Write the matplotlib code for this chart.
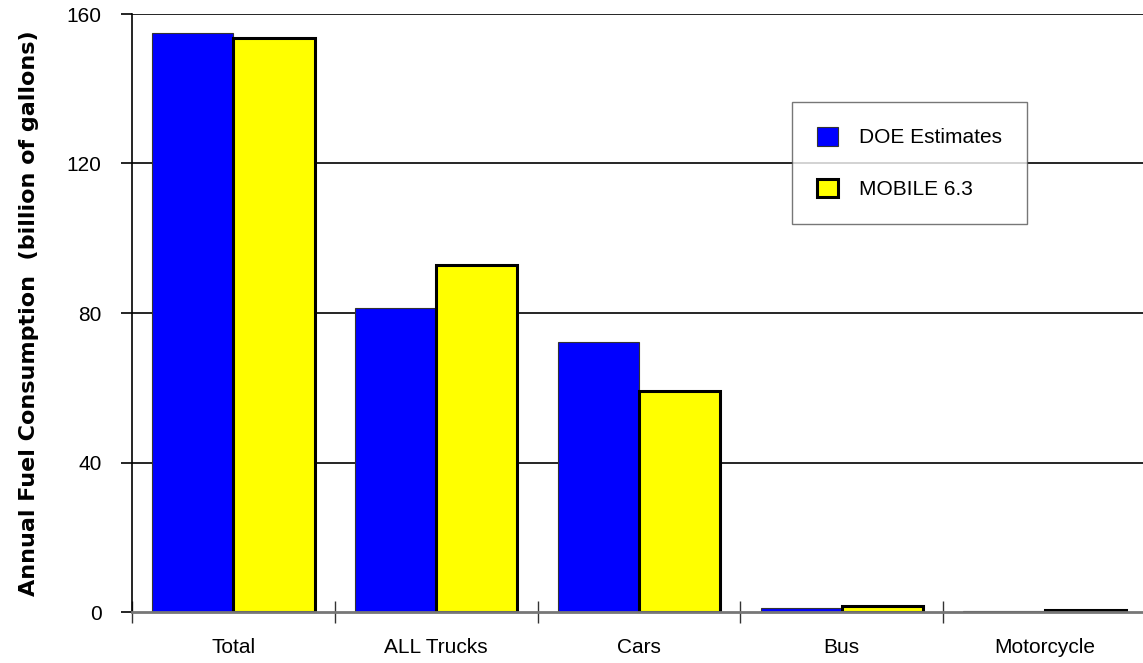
'''
Annual fuel consumption: DOE estimates vs MOBILE 6.3
'''

import numpy as np
import matplotlib.pyplot as plt
from matplotlib.patches import Patch

categories = ['Total', 'ALL Trucks', 'Cars', 'Bus', 'Motorcycle']
doe_estimates = [154.9, 81.3, 72.2, 1.1, 0.3]
mobile_63 = [153.6, 92.8, 59.1, 1.6, 0.6]
y_ticks = [0, 40, 80, 120, 160]


def plot_bar_graph():
    '''
    Draw the grouped bar chart and save it
    '''
    plt.rcParams['font.family'] = ['Liberation Sans', 'DejaVu Sans']
    fig = plt.figure(figsize=(11.43, 6.63), dpi=100)
    ax = fig.add_axes([132 / 1143, 1 - 612 / 663,
                       (1146 - 132) / 1143, (612 - 14) / 663])

    x = np.arange(len(categories))
    width = 0.4
    ax.bar(x - width / 2, doe_estimates, width, color='#0000ff',
           edgecolor='#333333', linewidth=0.8, zorder=3)
    ax.bar(x + width / 2, mobile_63, width, color='#ffff00',
           edgecolor='black', linewidth=2.2, zorder=3)

    ax.set_xlim(-0.5, len(categories) - 0.5)
    ax.set_ylim(0, 160)
    ax.set_yticks(y_ticks)
    ax.set_yticklabels([str(v) for v in y_ticks], fontsize=15)
    for v in y_ticks[1:]:
        ax.axhline(v, color='black', linewidth=1.2, zorder=1)

    ax.set_xticks(np.arange(len(categories) + 1) - 0.5, minor=False)
    ax.set_xticklabels([])
    ax.set_xticks(x, minor=True)
    ax.set_xticklabels(categories, minor=True, fontsize=15)
    ax.tick_params(axis='x', which='major', direction='inout', length=16,
                   width=1, color='#333333')
    ax.tick_params(axis='x', which='minor', length=0, pad=19)
    ax.tick_params(axis='y', direction='out', length=8, width=1.2, pad=14)

    for side in ['top', 'right']:
        ax.spines[side].set_visible(False)
    ax.spines['left'].set_linewidth(1.2)
    ax.spines['bottom'].set_color('#777777')
    ax.spines['bottom'].set_linewidth(2)
    ax.spines['bottom'].set_zorder(4)

    ax.set_ylabel('Annual Fuel Consumption  (billion of gallons)',
                  fontsize=16, fontweight='bold', family='DejaVu Sans',
                  labelpad=20)

    handles = [Patch(facecolor='#0000ff', edgecolor='#333333', linewidth=0.8),
               Patch(facecolor='#ffff00', edgecolor='black', linewidth=2.2)]
    legend = ax.legend(handles, ['DOE Estimates', 'MOBILE 6.3'],
                       loc='upper left', bbox_to_anchor=(0.651, 0.853),
                       fontsize=15, frameon=True, fancybox=False,
                       handlelength=1.0, handleheight=1.0, labelspacing=1.5,
                       borderpad=1.2, handletextpad=1.0, borderaxespad=0)
    legend.get_frame().set_edgecolor('#555555')
    legend.get_frame().set_linewidth(1.0)
    legend.set_zorder(5)

    fig.savefig('out.png', dpi=100)


plot_bar_graph()
